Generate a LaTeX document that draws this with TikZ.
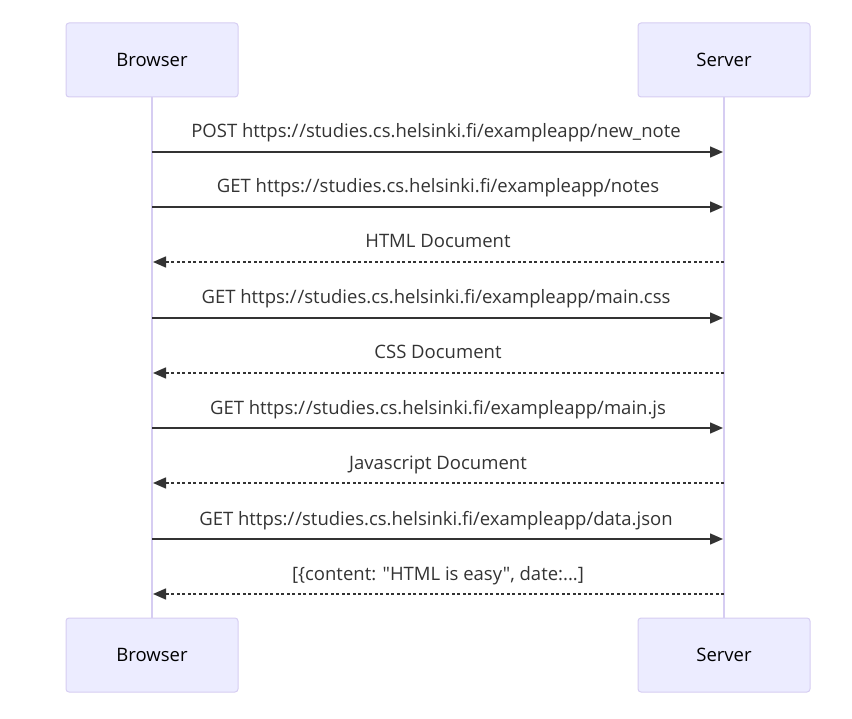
\documentclass[tikz,border=0pt]{standalone}
\usepackage{fontspec}
\setmainfont[Ligatures={NoCommon,TeXOff}]{Open Sans}
\usetikzlibrary{arrows.meta}
\definecolor{boxfill}{HTML}{ECECFF}
\definecolor{boxline}{HTML}{D6CDF2}
\definecolor{txt}{HTML}{333333}
\newcommand{\fsz}{\fontsize{18.5pt}{22pt}\selectfont}
\tikzset{
  actor/.style={draw=boxline, fill=boxfill, rounded corners=3pt, minimum width=172pt, minimum height=74pt, line width=1pt, text=black, font=\fsz, inner sep=0pt},
  life/.style={draw=boxline, line width=1.5pt},
  msg/.style={draw=txt, line width=1.5pt, shorten >=1pt, -{Triangle[length=13pt,width=11pt]}},
  reply/.style={msg, dashed, dash pattern=on 3pt off 2.5pt},
  lbl/.style={text=txt, font=\fsz, inner sep=0pt, anchor=base}
}
\begin{document}
\begin{tikzpicture}[x=1pt,y=-1pt]
\useasboundingbox (0,0) rectangle (852,719);
\node[actor] (bt) at (152,60) {Browser};
\node[actor] (st) at (724,60) {Server};
\node[actor] (bb) at (152,655) {Browser};
\node[actor] (sb) at (724,655) {Server};
\draw[life] (bt.south) -- (bb.north);
\draw[life] (st.south) -- (sb.north);
\foreach \i/\y in {1/152,2/207,3/262,4/318,5/373,6/428,7/483,8/539,9/594}{
  \coordinate (b\i) at (152,\y);
  \coordinate (s\i) at (724,\y);
}
\draw[msg] (b1) -- (s1);
\draw[msg] (b2) -- (s2);
\draw[reply] (s3) -- (b3);
\draw[msg] (b4) -- (s4);
\draw[reply] (s5) -- (b5);
\draw[msg] (b6) -- (s6);
\draw[reply] (s7) -- (b7);
\draw[msg] (b8) -- (s8);
\draw[reply] (s9) -- (b9);
\node[lbl] (l1) at (436,138) {POST https:/\kern1pt/studies.cs.helsinki.fi/exampleapp/new\_note};
\node[lbl] (l2) at (438,193) {GET https:/\kern1pt/studies.cs.helsinki.fi/exampleapp/notes};
\node[lbl] (l3) at (438,248) {HTML Document};
\node[lbl] (l4) at (436,304) {GET https:/\kern1pt/studies.cs.helsinki.fi/exampleapp/main.css};
\node[lbl] (l5) at (438,359) {CSS Document};
\node[lbl] (l6) at (438,414) {GET https:/\kern1pt/studies.cs.helsinki.fi/exampleapp/main.js};
\node[lbl] (l7) at (438,469) {Javascript Document};
\node[lbl] (l8) at (436,525) {GET https:/\kern1pt/studies.cs.helsinki.fi/exampleapp/data.json};
\node[lbl] (l9) at (438,580) {[\{content: "HTML is easy", date:...]};
\end{tikzpicture}
\end{document}
